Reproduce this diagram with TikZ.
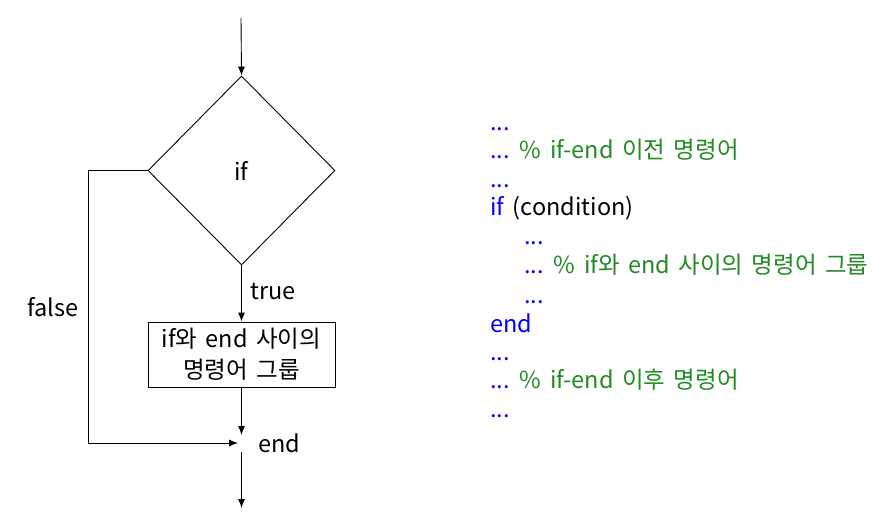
\documentclass[tikz,border=0pt]{standalone}
\usepackage{fontspec}
\setmainfont[WordSpace=1.6]{Noto Sans CJK KR}
\usetikzlibrary{shapes.geometric,arrows.meta}
\definecolor{kwblue}{RGB}{0,0,255}
\definecolor{cmgreen}{RGB}{34,139,34}
\begin{document}
\begin{tikzpicture}[x=1pt,y=-1pt,
  every node/.style={font=\fontsize{23.5}{26}\selectfont},
  arr/.style={draw,line width=0.9pt,-{Latex[length=9pt,width=7pt]}},
  code/.style={anchor=base west,inner sep=0pt},
  kw/.style={text=kwblue},
]
\useasboundingbox (0,0) rectangle (888,529);
\fill[white] (0,0) rectangle (888,529);
% flowchart
\coordinate (start) at (241,18);
\node[diamond,draw,line width=0.9pt,inner sep=0pt,minimum width=187pt,minimum height=189pt] (ifd) at (241.5,170.5) {if};
\node[draw,line width=0.9pt,minimum width=187pt,minimum height=65pt,align=center,inner sep=0pt,font=\fontsize{23.5}{31}\selectfont] (grp) at (241.5,354.5) {if와 end 사이의\\명령어 그룹};
\coordinate (endin) at (241.5,435);
\coordinate (endleft) at (238,443);
\coordinate (endout) at (241.5,452);
\coordinate (stop) at (241.5,508);
\coordinate (fl) at (88,170.5);
\coordinate (fb) at (88,443);
\draw[arr] (start) -- (ifd.north);
\draw[arr] (ifd.south) -- (grp.north);
\draw[arr] (grp.south) -- (endin);
\draw[arr] (ifd.west) -- (fl) -- (fb) -- (endleft);
\draw[arr] (endout) -- (stop);
\node (truelbl) at (273,291) {true};
\node (falselbl) at (53,307) {false};
\node (endlbl) at (279,443) {end};
% code
\node[code,kw] (c1) at (490,131) {...};
\node[code] (c2) at (490,159) {\textcolor{kwblue}{...} \textcolor{cmgreen}{\% if-end 이전 명령어}};
\node[code,kw] (c3) at (490,188) {...};
\node[code] (c4) at (490,216) {\textcolor{kwblue}{if} (condition)};
\node[code,kw] (c5) at (524,245) {...};
\node[code] (c6) at (524,273) {\textcolor{kwblue}{...} \textcolor{cmgreen}{\% if와 end 사이의 명령어 그룹}};
\node[code,kw] (c7) at (524,303) {...};
\node[code,kw] (c8) at (490,332) {end};
\node[code,kw] (c9) at (490,360) {...};
\node[code] (c10) at (490,388) {\textcolor{kwblue}{...} \textcolor{cmgreen}{\% if-end 이후 명령어}};
\node[code,kw] (c11) at (490,417) {...};
\end{tikzpicture}
\end{document}
